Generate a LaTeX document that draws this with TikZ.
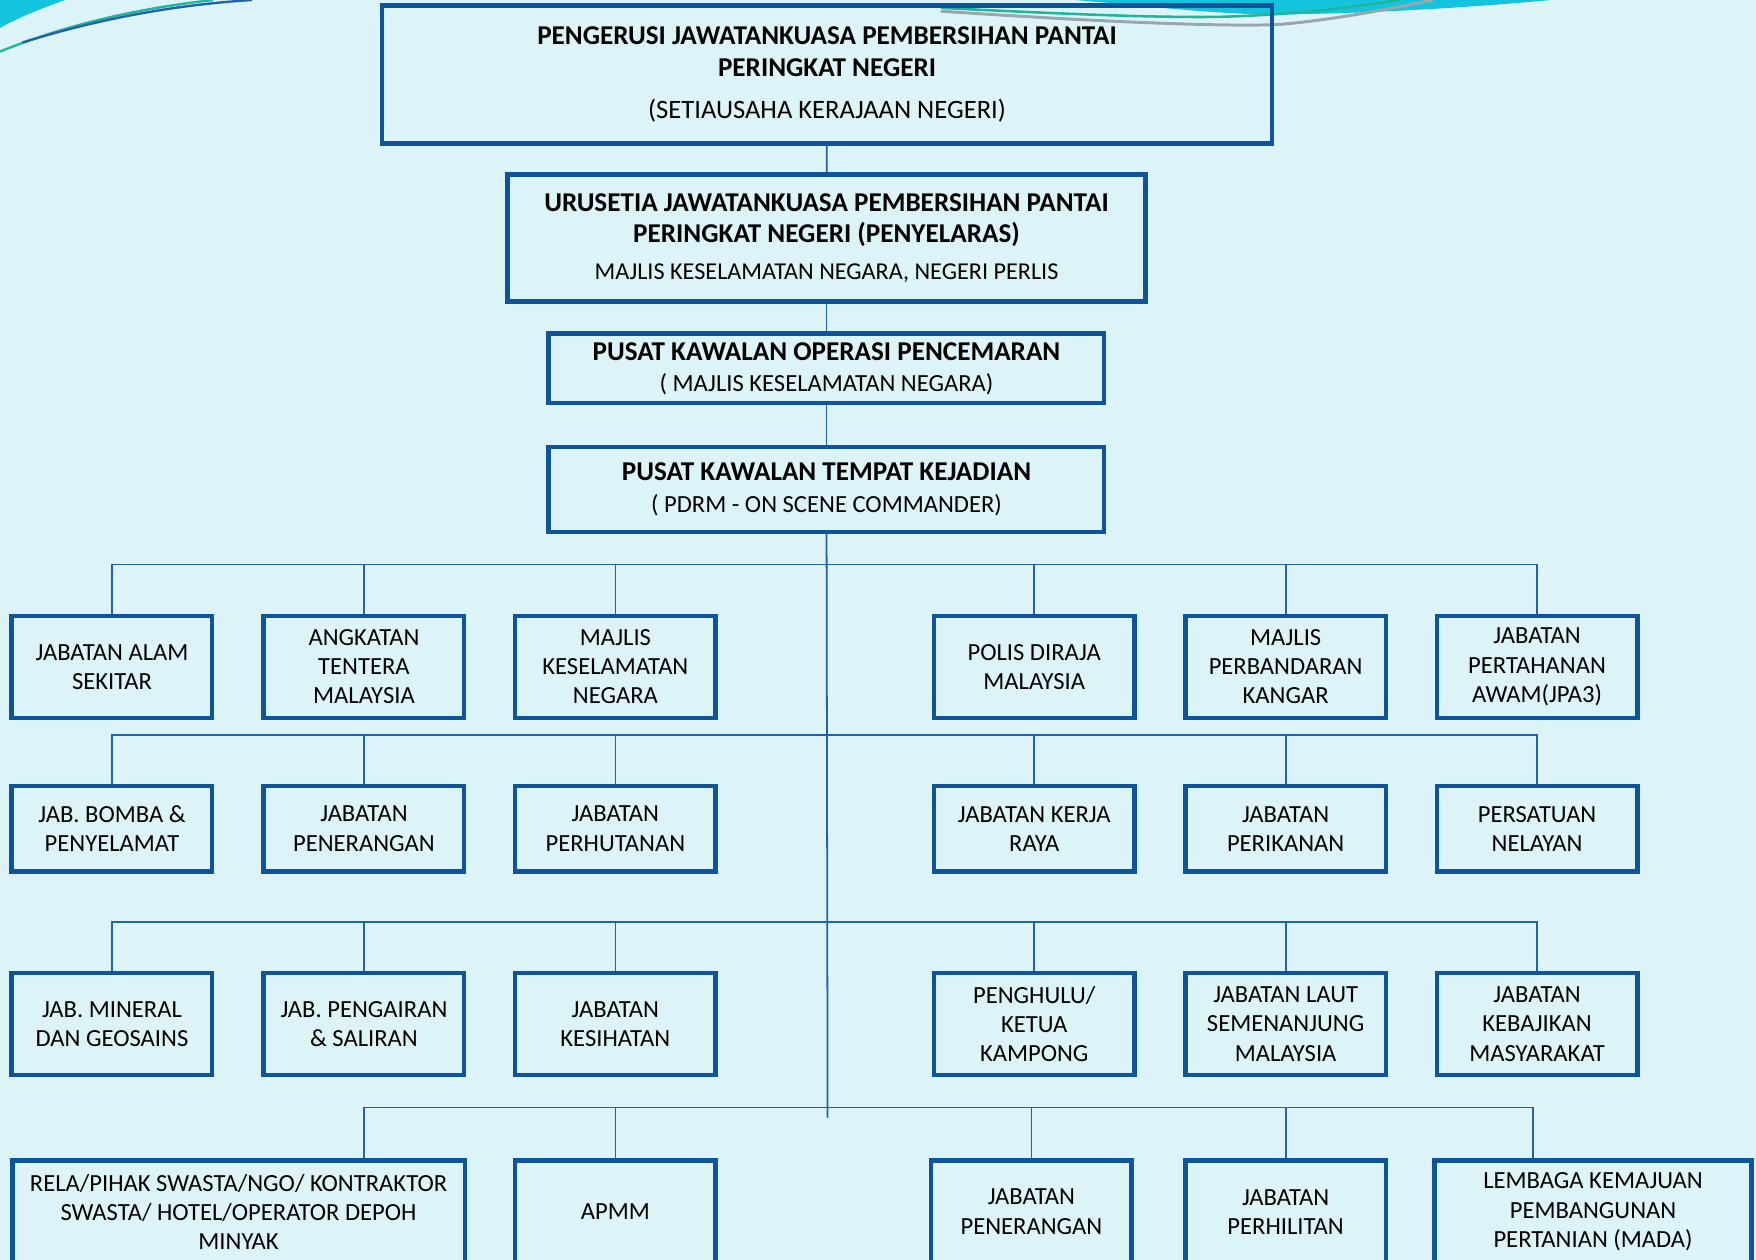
\documentclass[tikz,border=0pt]{standalone}
\usepackage{fontspec}
\setmainfont{Carlito}
\usepackage{tikz}
\usetikzlibrary{arrows.meta}

\definecolor{bgcyan}{HTML}{DCF4F8}
\definecolor{boxblue}{HTML}{0E5499}
\definecolor{linkblue}{HTML}{2462A8}
\definecolor{swoosh}{HTML}{14C4DF}
\definecolor{tealline}{HTML}{1FB79C}
\definecolor{greyline}{HTML}{9AA6AE}

\newcommand{\hb}[1]{{\fontsize{13.8}{15.9}\selectfont\bfseries #1}}

\tikzset{
  orgbox/.style={draw=boxblue,line width=2.3pt,rectangle,align=center,
    font=\fontsize{12.5}{14.8}\selectfont,inner sep=2pt},
  headbox/.style={orgbox,font=\fontsize{12.5}{15.9}\selectfont},
  bw/.style={minimum width=#1*0.2mm},
  bh/.style={minimum height=#1*0.2mm},
  link/.style={draw=linkblue,line width=0.9pt}
}

\begin{document}
\begin{tikzpicture}[x=0.2mm,y=-0.2mm]
    \fill[bgcyan] (0,0) rectangle (1568,1125);
    \useasboundingbox (0,0) rectangle (1568,1125);

    % top swooshes
    \fill[swoosh] (0,0) -- (58,0) .. controls (30,10) and (12,18) .. (0,25) -- cycle;
    \draw[tealline,line width=1.2pt] (0,46) .. controls (60,22) and (120,8) .. (190,0);
    \draw[linkblue,line width=1.2pt] (20,38) .. controls (90,16) and (160,4) .. (225,0);
    \fill[swoosh] (960,0) .. controls (1030,6) and (1090,13) .. (1140,13)
      .. controls (1230,12) and (1320,6) .. (1385,0) -- cycle;
    \draw[greyline,line width=1.5pt] (840,10) .. controls (960,18) and (1080,24) .. (1140,22)
      .. controls (1190,18) and (1240,8) .. (1280,0);
    \draw[tealline,line width=1.3pt] (840,7) .. controls (940,12) and (1030,16) .. (1090,15)
      .. controls (1160,13) and (1210,6) .. (1250,0);

    % top of the chain
    \begin{scope}[every node/.style={headbox}]
      \node[bw=795,bh=123] (chair) at (738.5,66.5)
        {\hb{PENGERUSI JAWATANKUASA PEMBERSIHAN PANTAI}\\
         \hb{PERINGKAT NEGERI}\\[5.6pt]
         {\fontsize{13.5}{15.9}\selectfont (SETIAUSAHA KERAJAAN NEGERI)}};
      \node[bw=570,bh=113] (secr) at (738,212.5)
        {\hb{URUSETIA JAWATANKUASA PEMBERSIHAN PANTAI}\\
         \hb{PERINGKAT NEGERI (PENYELARAS)}\\[3pt]
         {\fontsize{12.3}{14}\selectfont MAJLIS KESELAMATAN NEGARA, NEGERI PERLIS}};
      \node[bw=496,bh=62] (pkop) at (738,329)
        {\hb{PUSAT KAWALAN OPERASI PENCEMARAN}\\
         ( MAJLIS KESELAMATAN NEGARA)};
      \node[bw=496,bh=76] (pktk) at (738,437)
        {\hb{PUSAT KAWALAN TEMPAT KEJADIAN}\\
         ( PDRM - ON SCENE COMMANDER)};
    \end{scope}

    % agencies
    \begin{scope}[every node/.style={orgbox,bw=179}]
      \node[bh=91] (a1) at (100,595.5) {JABATAN ALAM\\SEKITAR};
      \node[bh=91] (a2) at (325,595.5) {ANGKATAN\\TENTERA\\MALAYSIA};
      \node[bh=91] (a3) at (549.5,595.5) {MAJLIS\\KESELAMATAN\\NEGARA};
      \node[bh=91] (a4) at (923.5,595.5) {POLIS DIRAJA\\MALAYSIA};
      \node[bh=91] (a5) at (1148,595.5) {MAJLIS\\PERBANDARAN\\KANGAR};
      \node[bh=91] (a6) at (1372.5,595.5) {JABATAN\\PERTAHANAN\\AWAM(JPA3)};

      \node[bh=76] (b1) at (100,740) {JAB. BOMBA \&\\PENYELAMAT};
      \node[bh=76] (b2) at (325,740) {JABATAN\\PENERANGAN};
      \node[bh=76] (b3) at (549.5,740) {JABATAN\\PERHUTANAN};
      \node[bh=76] (b4) at (923.5,740) {JABATAN KERJA\\RAYA};
      \node[bh=76] (b5) at (1148,740) {JABATAN\\PERIKANAN};
      \node[bh=76] (b6) at (1372.5,740) {PERSATUAN\\NELAYAN};

      \node[bh=91] (c1) at (100,914.5) {JAB. MINERAL\\DAN GEOSAINS};
      \node[bh=91] (c2) at (325,914.5) {JAB. PENGAIRAN\\\& SALIRAN};
      \node[bh=91] (c3) at (549.5,914.5) {JABATAN\\KESIHATAN};
      \node[bh=91] (c4) at (923.5,914.5) {PENGHULU/\\KETUA\\KAMPONG};
      \node[bh=91] (c5) at (1148,914.5) {JABATAN LAUT\\SEMENANJUNG\\MALAYSIA};
      \node[bh=91] (c6) at (1372.5,914.5) {JABATAN\\KEBAJIKAN\\MASYARAKAT};

      \node[bh=92,bw=404] (d1) at (213,1082)
        {RELA/PIHAK SWASTA/NGO/ KONTRAKTOR\\SWASTA/ HOTEL/OPERATOR DEPOH\\MINYAK};
      \node[bh=92] (d2) at (549.5,1082) {APMM};
      \node[bh=92] (d3) at (921,1082) {JABATAN\\PENERANGAN};
      \node[bh=92] (d4) at (1148,1082) {JABATAN\\PERHILITAN};
      \node[bh=92,bw=283] (d5) at (1422.5,1082)
        {LEMBAGA KEMAJUAN\\PEMBANGUNAN\\PERTANIAN (MADA)};
    \end{scope}

    \coordinate (trunkend) at (739,998);

    % connectors
    \begin{scope}[every path/.style={link}]
      \draw (chair) -- (secr);
      \draw (secr) -- (pkop);
      \draw (pkop) -- (pktk);
      \draw (pktk) -- (trunkend);
      \draw (a1.north) -- ++(0,-44) -| (a6.north);
      \draw (b1.north) -- ++(0,-44) -| (b6.north);
      \draw (c1.north) -- ++(0,-44) -| (c6.north);
      \foreach \n in {a2,a3,a4,a5,b2,b3,b4,b5,c2,c3,c4,c5}
        \draw (\n.north) -- ++(0,-44);
      \draw (d1.north -| 325,0) -- ++(0,-45) -| (d5.north -| 1369,0);
      \foreach \n in {d2,d3,d4}
        \draw (\n.north) -- ++(0,-45);
    \end{scope}
  \end{tikzpicture}
\end{document}
